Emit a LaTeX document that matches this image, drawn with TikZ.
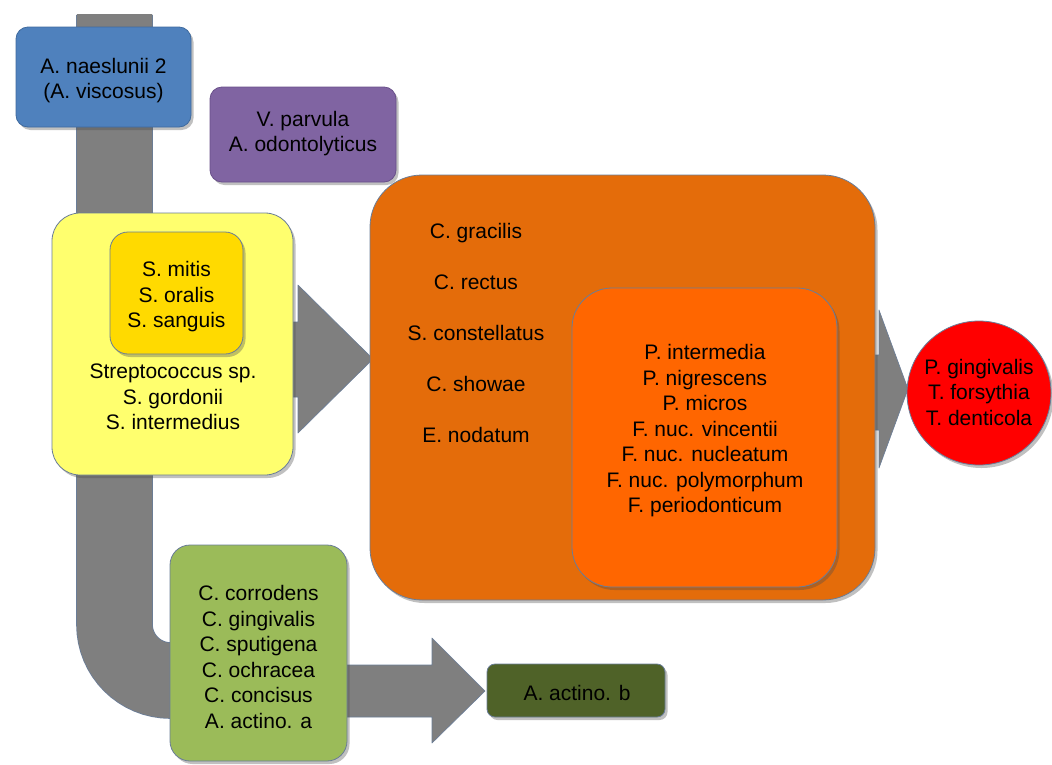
\documentclass[tikz,border=0pt]{standalone}
\usepackage{fontspec}
\setmainfont{Liberation Sans}
\usetikzlibrary{shadows}
\definecolor{cblue}{HTML}{4F81BD}
\definecolor{cblueb}{HTML}{3F6A9E}
\definecolor{cpurple}{HTML}{8064A2}
\definecolor{cpurpleb}{HTML}{69508A}
\definecolor{cyellow}{HTML}{FFFF6E}
\definecolor{cgold}{HTML}{FFDA00}
\definecolor{corange}{HTML}{E46C0A}
\definecolor{cbright}{HTML}{FF6600}
\definecolor{cred}{HTML}{FF0000}
\definecolor{cgreen}{HTML}{9BBB59}
\definecolor{colive}{HTML}{4F6228}
\definecolor{cgray}{HTML}{7F7F7F}
\definecolor{cedge}{HTML}{6A7D98}
\tikzset{
  boxshape/.style={rectangle, inner sep=0pt, draw=cedge, line width=0.8pt,
    drop shadow={shadow xshift=2.5pt, shadow yshift=-3pt, opacity=0.35, fill=black!70}},
  lbl/.style={align=center, font=\fontsize{21}{25.5}\selectfont, text=black},
  blockarrow/.style={fill=cgray, draw=cedge, line width=0.6pt, line join=round}
}
\begin{document}
\begin{tikzpicture}[x=1pt,y=-1pt]
\useasboundingbox (0,0) rectangle (1052,764);
\fill[white] (0,0) rectangle (1052,764);

% bent gray band
\draw[cedge, line width=76.6pt, rounded corners=56pt] (114.5,14.8) -- (114.5,680.5) -- (250,680.5);
\draw[cgray, line width=75pt, rounded corners=56pt] (114.5,14) -- (114.5,680.5) -- (252,680.5);

% block arrows
\path[blockarrow] (270,322) -- (298,322) -- (298,285) -- (373,359) -- (298,433) -- (298,397) -- (270,397) -- cycle;
\path[blockarrow] (330,665) -- (432,665) -- (432,638) -- (485,691) -- (432,743) -- (432,717) -- (330,717) -- cycle;
\path[blockarrow] (860,355) -- (879,355) -- (879,310) -- (908,389) -- (879,468) -- (879,430) -- (860,430) -- cycle;

% boxes
\node[boxshape, rounded corners=12pt, fill=cblue, draw=cblueb, minimum width=175pt, minimum height=100pt] (naes) at (103.5,77) {};
\node[lbl] (naestxt) at (103.5,80.5) {A. naeslunii 2\\(A. viscosus)};
\node[boxshape, rounded corners=12pt, fill=cpurple, draw=cpurpleb, minimum width=186pt, minimum height=95pt] (parv) at (303,134.5) {};
\node[lbl] (parvtxt) at (303,133.5) {V. parvula\\A. odontolyticus};

\node[boxshape, rounded corners=28pt, fill=cyellow, minimum width=241pt, minimum height=262pt] (yel) at (172.5,344) {};
\node[boxshape, rounded corners=18pt, fill=cgold, minimum width=133pt, minimum height=122pt] (gold) at (176.5,293) {};
\node[lbl] (goldtxt) at (176.5,297) {S. mitis\\S. oralis\\S. sanguis};
\node[lbl] (yeltxt) at (173,397) {Streptococcus sp.\\S. gordonii\\S. intermedius};

\node[boxshape, rounded corners=52pt, fill=corange, minimum width=505pt, minimum height=425pt] (orng) at (622.5,387.5) {};
\node[align=center, font=\fontsize{21}{50.8}\selectfont] (orngtxt) at (476,333) {C. gracilis\\C. rectus\\S. constellatus\\C. showae\\E. nodatum};
\node[boxshape, rounded corners=40pt, fill=cbright, minimum width=265pt, minimum height=299pt] (inner) at (704.5,437.5) {};
\node[lbl] (innertxt) at (705,431) {P. intermedia\\P. nigrescens\\P. micros\\F. nuc. vincentii\\F. nuc. nucleatum\\F. nuc. polymorphum\\F. periodonticum};

\node[boxshape, circle, fill=cred, minimum size=144pt] (red) at (979,393) {};
\node[lbl] (redtxt) at (979,392) {P. gingivalis\\T. forsythia\\T. denticola};

\node[boxshape, rounded corners=20pt, fill=cgreen, minimum width=177pt, minimum height=216pt] (grn) at (258.5,653) {};
\node[lbl] (grntxt) at (258.5,657) {C. corrodens\\C. gingivalis\\C. sputigena\\C. ochracea\\C. concisus\\A. actino. a};
\node[boxshape, rounded corners=8pt, fill=colive, minimum width=178pt, minimum height=53pt] (actb) at (576,690.5) {};
\node[lbl] (actbtxt) at (577,693) {A. actino. b};
\end{tikzpicture}
\end{document}
